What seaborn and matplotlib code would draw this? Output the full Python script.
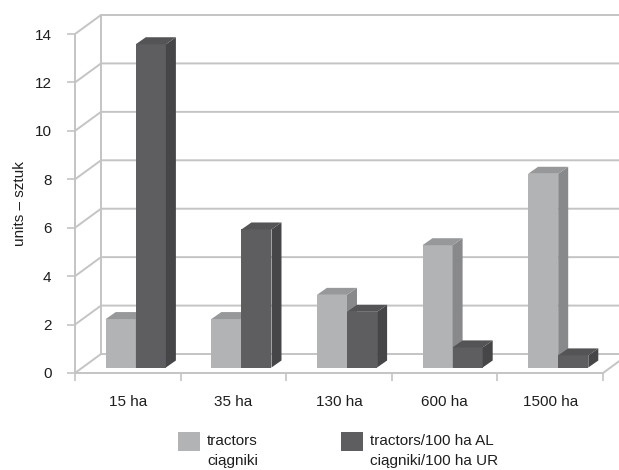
import matplotlib
matplotlib.use("Agg")
import matplotlib.pyplot as plt
import matplotlib.transforms as mtransforms
from matplotlib.patches import Polygon, Patch, Rectangle
from matplotlib.legend_handler import HandlerPatch
import seaborn as sns
import numpy as np
import pandas as pd

# data
farm_sizes = ["15 ha", "35 ha", "130 ha", "600 ha", "1500 ha"]
tractors = [2.0, 2.0, 3.0, 5.05, 8.0]
tractors_per_100ha = [13.35, 5.7, 2.3, 0.83, 0.5]
series_labels = ["tractors\nciągniki", "tractors/100 ha AL\nciągniki/100 ha UR"]
y_ticks = [0, 2, 4, 6, 8, 10, 12, 14]

face_colors = ["#b2b3b5", "#5e5e60"]
side_colors = ["#88898b", "#464648"]
top_colors = ["#97989a", "#545456"]
grid_color = "#c4c4c4"
text_color = "#1e1e1e"

df = pd.DataFrame({
    "size": farm_sizes * 2,
    "value": tractors + tractors_per_100ha,
    "series": [series_labels[0]] * len(farm_sizes) + [series_labels[1]] * len(farm_sizes),
})

sns.set_style("white")
plt.rcParams["font.family"] = ["Liberation Sans", "DejaVu Sans"]

fig = plt.figure(figsize=(6.19, 4.70), dpi=100)
ax = fig.add_axes([75 / 619, 97 / 470, 528 / 619, 339 / 470])

sns.barplot(data=df, x="size", y="value", hue="series", palette=face_colors,
            width=0.57, linewidth=0, legend=False, ax=ax, zorder=5)

ax.set_xlim(-0.5, len(farm_sizes) - 0.5)
ax.set_ylim(0, 14)
xmin, xmax = ax.get_xlim()
pix = mtransforms.IdentityTransform()

# back wall / floor offset (perspective), in pixels
wall_dx, wall_dy = 26, 19
wall = ax.transData + mtransforms.ScaledTranslation(wall_dx / 100, wall_dy / 100, fig.dpi_scale_trans)
# bars stand a bit back from the front edge of the floor
bar_shift = ax.transData + mtransforms.ScaledTranslation(0.08, 0.055, fig.dpi_scale_trans)

for y in y_ticks:
    p0 = ax.transData.transform((xmin, y))
    p1 = wall.transform((xmin, y))
    p2 = wall.transform((xmax, y))
    ax.plot([p0[0], p1[0], p2[0]], [p0[1], p1[1], p2[1]], transform=pix,
            color=grid_color, lw=1.4, clip_on=False, zorder=1)
b0 = wall.transform((xmin, 0))
b1 = wall.transform((xmin, 14))
ax.plot([b0[0], b1[0]], [b0[1], b1[1]], transform=pix, color=grid_color, lw=1.4, clip_on=False, zorder=1)
f0 = ax.transData.transform((xmin, 0))
f1 = ax.transData.transform((xmax, 0))
f2 = wall.transform((xmax, 0))
ax.plot([f0[0], f1[0], f2[0]], [f0[1], f1[1], f2[1]], transform=pix, color=grid_color, lw=1.4,
        clip_on=False, zorder=2)

# 3D bar sides and tops, derived from seaborn's bar patches
bar_dx, bar_dy = 10, 7
bars = sorted(ax.patches, key=lambda p: p.get_x())
for i, bar in enumerate(bars):
    k = 0 if bar.get_facecolor()[0] > 0.5 else 1
    bar.set_transform(bar_shift)
    (x0, y0), (x1, y1) = bar_shift.transform(
        [(bar.get_x(), 0), (bar.get_x() + bar.get_width(), bar.get_height())])
    z = 5 + i * 0.1
    bar.set_zorder(z)
    bar.set_clip_on(False)
    side = Polygon([(x1, y0), (x1, y1), (x1 + bar_dx, y1 + bar_dy), (x1 + bar_dx, y0 + bar_dy)],
                   closed=True, transform=pix, facecolor=side_colors[k], lw=0, zorder=z + 0.01, clip_on=False)
    top = Polygon([(x0, y1), (x1, y1), (x1 + bar_dx, y1 + bar_dy), (x0 + bar_dx, y1 + bar_dy)],
                  closed=True, transform=pix, facecolor=top_colors[k], lw=0, zorder=z + 0.01, clip_on=False)
    ax.add_artist(side)
    ax.add_artist(top)

for s in ["top", "right", "bottom"]:
    ax.spines[s].set_visible(False)
ax.spines["left"].set_color(grid_color)
ax.spines["left"].set_linewidth(1.4)

ax.set_yticks(y_ticks)
ax.tick_params(axis="y", length=6, width=1.2, color=grid_color, labelsize=11, labelcolor=text_color,
               left=True, pad=11)
ax.set_xticks(range(len(farm_sizes)))
ax.set_xticklabels(farm_sizes)
ax.tick_params(axis="x", length=0, labelsize=11, labelcolor=text_color, pad=16)
ax.set_xticks(np.arange(xmin, xmax + 0.01, 1), minor=True)
ax.tick_params(axis="x", which="minor", length=6, width=1.2, color=grid_color, direction="out", bottom=True, pad=3)

ax.set_xlabel("")
ax.set_ylabel("units – sztuk", fontsize=11, color=text_color, labelpad=5)


# legend squares sit level with the first text line
def raised_square(legend, orig_handle, xdescent, ydescent, width, height, fontsize):
    return Rectangle((-xdescent, -ydescent + 7), width, height)


handles = [Patch(facecolor=c, edgecolor="none") for c in face_colors]
leg = fig.legend(handles, series_labels, loc="upper left", bbox_to_anchor=(178 / 619, 1 - 434 / 470), ncol=2,
                 frameon=False, fontsize=11, handlelength=1.45, handleheight=1.45, borderpad=0,
                 borderaxespad=0, columnspacing=5.43, handletextpad=0.45, labelcolor=text_color,
                 handler_map={Patch: HandlerPatch(patch_func=raised_square)})
for t in leg.get_texts():
    t.set_multialignment("left")
    t.set_linespacing(1.5)

fig.savefig("out.png", dpi=100)
